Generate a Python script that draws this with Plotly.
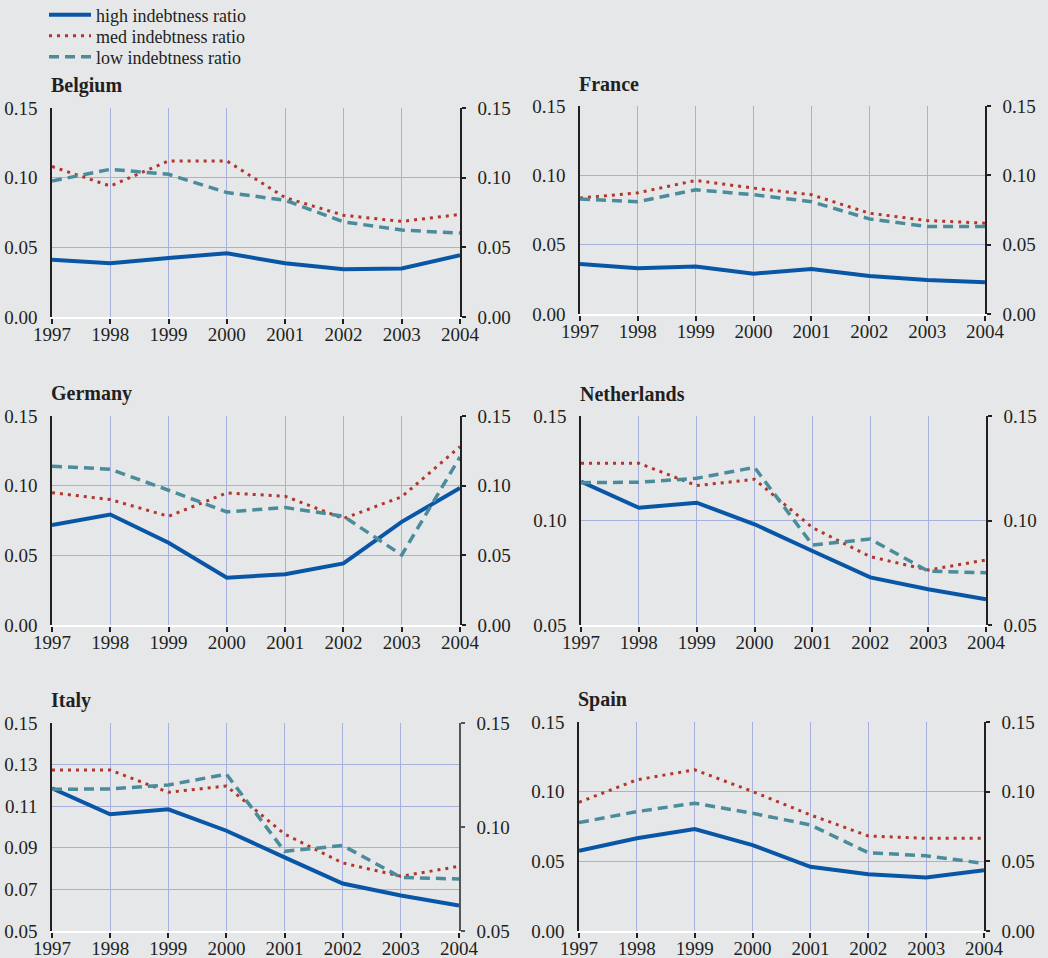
import plotly.graph_objects as go

# Years on the horizontal axis
years = [1997, 1998, 1999, 2000, 2001, 2002, 2003, 2004]

# Ratios by country and indebtedness group
belgium_high = [0.0410, 0.0386, 0.0424, 0.0457, 0.0386, 0.0343, 0.0348, 0.0443]
belgium_med = [0.1080, 0.0940, 0.1120, 0.1120, 0.0857, 0.0730, 0.0686, 0.0736]
belgium_low = [0.0976, 0.1060, 0.1024, 0.0893, 0.0838, 0.0683, 0.0624, 0.0602]

france_high = [0.0361, 0.0330, 0.0342, 0.0291, 0.0325, 0.0274, 0.0246, 0.0229]
france_med = [0.0836, 0.0874, 0.0963, 0.0908, 0.0860, 0.0727, 0.0674, 0.0655]
france_low = [0.0830, 0.0810, 0.0896, 0.0860, 0.0810, 0.0686, 0.0631, 0.0631]

germany_high = [0.0717, 0.0793, 0.0590, 0.0339, 0.0365, 0.0442, 0.0740, 0.0984]
germany_med = [0.0950, 0.0900, 0.0780, 0.0948, 0.0924, 0.0764, 0.0920, 0.1280]
germany_low = [0.1140, 0.1118, 0.0967, 0.0812, 0.0843, 0.0781, 0.0502, 0.1206]

netherlands_high = [0.1186, 0.1061, 0.1085, 0.0982, 0.0854, 0.0728, 0.0671, 0.0623]
netherlands_med = [0.1274, 0.1274, 0.1167, 0.1197, 0.0966, 0.0827, 0.0763, 0.0811]
netherlands_low = [0.1181, 0.1183, 0.1202, 0.1254, 0.0883, 0.0911, 0.0758, 0.0750]

italy_high = [0.1186, 0.1061, 0.1085, 0.0982, 0.0854, 0.0728, 0.0671, 0.0623]
italy_med = [0.1274, 0.1274, 0.1167, 0.1197, 0.0966, 0.0827, 0.0763, 0.0811]
italy_low = [0.1181, 0.1183, 0.1202, 0.1254, 0.0883, 0.0911, 0.0758, 0.0750]

spain_high = [0.0576, 0.0665, 0.0732, 0.0617, 0.0461, 0.0408, 0.0384, 0.0437]
spain_med = [0.0924, 0.1085, 0.1157, 0.1001, 0.0833, 0.0682, 0.0665, 0.0665]
spain_low = [0.0778, 0.0857, 0.0917, 0.0845, 0.0761, 0.0562, 0.0540, 0.0485]

series_names = ["high indebtness ratio", "med indebtness ratio", "low indebtness ratio"]

ticks_full = [0.00, 0.05, 0.10, 0.15]
ticks_upper = [0.05, 0.10, 0.15]
ticks_italy = [0.05, 0.07, 0.09, 0.11, 0.13, 0.15]

W, H = 1048, 958
BG = "#e6e7e9"
GRID = "#a7b1db"
FONT = "Liberation Serif"
TXT = "#231f20"
TICK_SIZE = 19

styles = [
    dict(color="#0a56a6", width=4, dash="solid"),
    dict(color="#b3352c", width=3, dash="3px,5px"),
    dict(color="#4b8c9b", width=3.5, dash="10px,6px"),
]

# one legend per series, stacked at the top left (centre rows in px)
legend_rows = [15, 36, 57]

# pixel boxes of each panel: left, right, top, bottom
panels = [
    dict(name="Belgium", box=(52, 460, 108, 317), rng=[0, 0.15], lt=ticks_full, rt=ticks_full,
         data=(belgium_high, belgium_med, belgium_low), raxis="#231f20"),
    dict(name="France", box=(580, 985, 106, 314), rng=[0, 0.15], lt=ticks_full, rt=ticks_full,
         data=(france_high, france_med, france_low), raxis="#231f20"),
    dict(name="Germany", box=(52, 460, 416, 625), rng=[0, 0.15], lt=ticks_full, rt=ticks_full,
         data=(germany_high, germany_med, germany_low), raxis="#231f20"),
    dict(name="Netherlands", box=(581, 986, 416, 625), rng=[0.05, 0.15], lt=ticks_upper, rt=ticks_upper,
         data=(netherlands_high, netherlands_med, netherlands_low), raxis="#231f20"),
    dict(name="Italy", box=(52, 459, 723, 931), rng=[0.05, 0.15], lt=ticks_italy, rt=ticks_upper,
         data=(italy_high, italy_med, italy_low), raxis="#555555"),
    dict(name="Spain", box=(579, 984, 722, 931), rng=[0, 0.15], lt=ticks_full, rt=ticks_full,
         data=(spain_high, spain_med, spain_low), raxis="#231f20"),
]

fig = go.Figure()
layout = dict(
    width=W, height=H,
    margin=dict(l=0, r=0, t=0, b=0, autoexpand=False),
    paper_bgcolor=BG, plot_bgcolor=BG,
    font=dict(family=FONT, size=TICK_SIZE, color=TXT),
    showlegend=True,
    annotations=[],
)

legend_keys = ["legend", "legend2", "legend3"]
for key, row in zip(legend_keys, legend_rows):
    layout[key] = dict(
        x=44 / W, y=1 - row / H, xanchor="left", yanchor="middle",
        bgcolor="rgba(0,0,0,0)", itemwidth=42,
        font=dict(family=FONT, size=18, color=TXT),
    )

n = len(panels)
for i, p in enumerate(panels, start=1):
    l, r, t, b = p["box"]
    xd = [l / W, r / W]
    yd = [1 - b / H, 1 - t / H]
    xa = f"x{i}"
    ya_left = f"y{i}"
    ya_right = f"y{i + n}"

    for k, (vals, st, nm) in enumerate(zip(p["data"], styles, series_names)):
        fig.add_trace(go.Scatter(
            x=years, y=vals, mode="lines", name=nm,
            line=dict(color=st["color"], width=st["width"], dash=st["dash"]),
            xaxis=xa, yaxis=ya_left, showlegend=(i == 1), legend=legend_keys[k],
            hoverinfo="skip",
        ))
    # carrier for the right-hand axis
    fig.add_trace(go.Scatter(
        x=years, y=p["data"][0], mode="lines", line=dict(width=0, color="rgba(0,0,0,0)"),
        xaxis=xa, yaxis=ya_right, showlegend=False, hoverinfo="skip",
    ))

    layout[f"xaxis{i}"] = dict(
        domain=xd, anchor=ya_left, range=[1997, 2004], automargin=False,
        tickmode="array", tickvals=years, ticktext=[str(y) for y in years],
        showgrid=True, gridcolor=GRID, gridwidth=1,
        showline=True, linecolor="#ffffff", linewidth=2,
        ticks="outside", ticklen=5, tickwidth=1.5, tickcolor="#231f20",
        ticklabelstandoff=-6,
        zeroline=False, tickfont=dict(family=FONT, size=TICK_SIZE, color=TXT),
    )
    layout[f"yaxis{i}"] = dict(
        domain=yd, anchor=xa, range=p["rng"], automargin=False,
        tickmode="array", tickvals=p["lt"], ticktext=[f"{v:.2f}" for v in p["lt"]],
        showgrid=True, gridcolor=GRID, gridwidth=1,
        showline=True, linecolor="#231f20", linewidth=1.5,
        ticks="", zeroline=False, ticklabelstandoff=9,
        tickfont=dict(family=FONT, size=TICK_SIZE, color=TXT),
    )
    layout[f"yaxis{i + n}"] = dict(
        overlaying=ya_left, side="right", anchor=xa, range=p["rng"], automargin=False,
        tickmode="array", tickvals=p["rt"], ticktext=[f"{v:.2f}" for v in p["rt"]],
        showgrid=False, showline=True, linecolor=p["raxis"], linewidth=1.5,
        ticks="outside", ticklen=4, tickwidth=1.5, tickcolor=p["raxis"],
        ticklabelstandoff=8,
        zeroline=False, tickfont=dict(family=FONT, size=TICK_SIZE, color=TXT),
    )
    layout["annotations"].append(dict(
        text=f"<b>{p['name']}</b>", xref="paper", yref="paper",
        x=(l - 3) / W, y=1 - t / H, xanchor="left", yanchor="bottom", yshift=9,
        showarrow=False, font=dict(family=FONT, size=20, color=TXT),
    ))

fig.update_layout(**layout)
fig.write_html("out.html")
